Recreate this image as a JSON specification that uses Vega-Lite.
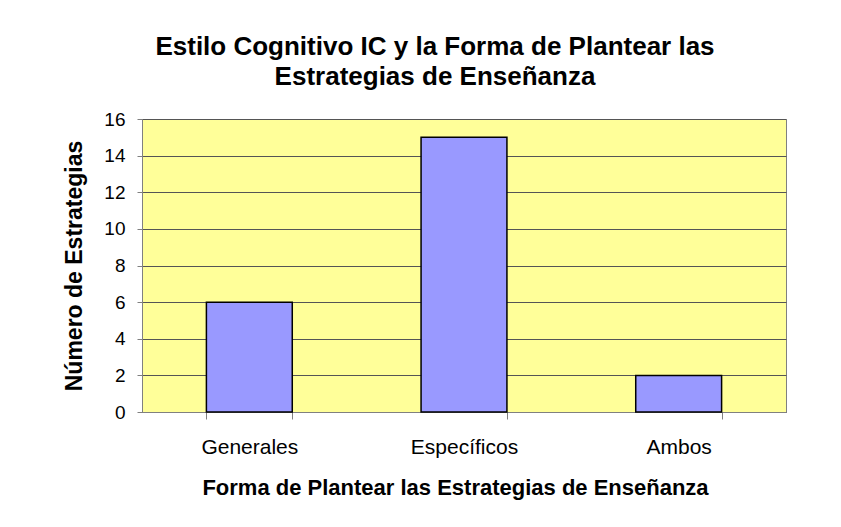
{
  "$schema": "https://vega.github.io/schema/vega-lite/v6.json",
  "autosize": {"type": "none"},
  "padding": {"left": 142, "top": 119, "right": 55, "bottom": 115},
  "width": 644,
  "height": 293,
  "background": "white",
  "title": {
    "text": ["Estilo Cognitivo IC y la Forma de Plantear las", "Estrategias de Enseñanza"],
    "font": "Liberation Sans",
    "fontSize": 26,
    "fontWeight": "bold",
    "color": "black",
    "lineHeight": 30,
    "anchor": "middle",
    "dx": -29,
    "offset": 20
  },
  "data": {
    "values": [
      {"forma": "Generales", "n": 6},
      {"forma": "Específicos", "n": 15},
      {"forma": "Ambos", "n": 2}
    ]
  },
  "mark": {"type": "bar", "color": "#9999FF", "stroke": "black", "strokeWidth": 1.5},
  "encoding": {
    "x": {
      "field": "forma",
      "type": "nominal",
      "sort": null,
      "scale": {"paddingInner": 0.6, "paddingOuter": 0.3},
      "axis": {
        "title": "Forma de Plantear las Estrategias de Enseñanza",
        "titleFont": "Liberation Sans",
        "titleFontSize": 22,
        "titleFontWeight": "bold",
        "titleColor": "black",
        "titlePadding": 20,
        "titleX": 313,
        "titleAlign": "center",
        "labelFont": "Liberation Sans",
        "labelFontSize": 21,
        "labelColor": "black",
        "labelAngle": 0,
        "labelPadding": 17,
        "tickBand": "extent",
        "tickColor": "#808080",
        "tickSize": 7,
        "domainColor": "#808080",
        "grid": false
      }
    },
    "y": {
      "field": "n",
      "type": "quantitative",
      "scale": {"domain": [0, 16]},
      "axis": {
        "title": "Número de Estrategias",
        "values": [0, 2, 4, 6, 8, 10, 12, 14, 16],
        "titleFont": "Liberation Sans",
        "titleFontSize": 23,
        "titleFontWeight": "bold",
        "titleColor": "black",
        "titlePadding": 17,
        "labelFont": "Liberation Sans",
        "labelFontSize": 19,
        "labelColor": "black",
        "labelPadding": 12,
        "tickColor": "#808080",
        "tickSize": 5,
        "domainColor": "#808080",
        "grid": true,
        "gridColor": "#555555",
        "gridOpacity": 1
      }
    }
  },
  "config": {
    "view": {"fill": "#FFFF99", "stroke": "#808080", "strokeWidth": 1}
  }
}
